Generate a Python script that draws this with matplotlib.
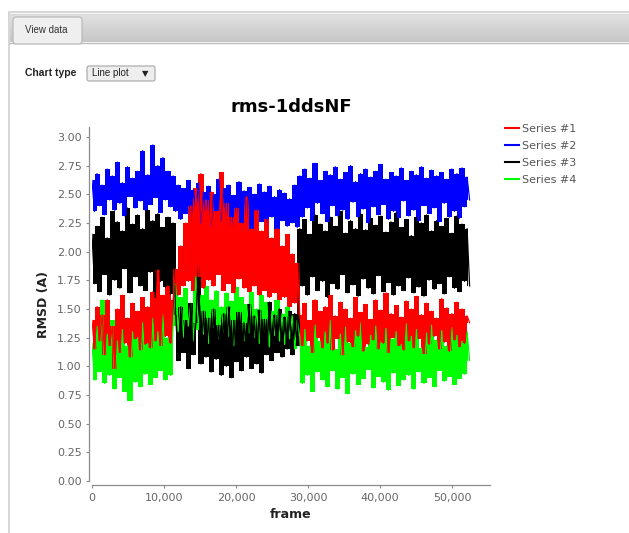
import numpy as np
import matplotlib
matplotlib.use("Agg")
import matplotlib.pyplot as plt
from matplotlib.colors import LinearSegmentedColormap
from matplotlib.patches import Rectangle, FancyBboxPatch
from matplotlib.lines import Line2D
from matplotlib.ticker import FuncFormatter, MultipleLocator

n_pts = 150
frames = np.arange(n_pts) * 352

series_1 = [  # red
    1.40, 1.15, 1.52, 1.22, 1.45, 1.10, 1.58, 1.18, 1.35, 0.98,
    1.50, 1.12, 1.62, 1.20, 1.42, 1.08, 1.55, 1.24, 1.48, 1.14,
    1.60, 1.19, 1.52, 1.16, 1.65, 1.22, 1.84, 1.18, 1.62, 1.26,
    1.70, 1.20, 1.58,
    1.85, 1.62, 2.05, 1.70, 2.25, 1.74, 2.40, 1.66, 2.55, 1.78,
    2.68, 1.68, 2.45, 1.75, 2.52, 1.70, 2.35, 1.80, 2.69, 1.66,
    2.42, 1.72, 2.30, 1.64, 2.38, 1.76, 2.25, 1.68, 2.48, 1.65,
    2.20, 1.70, 2.36, 1.62, 2.18, 1.66, 2.28, 1.60, 2.12, 1.64,
    2.20, 1.58, 2.05, 1.60, 2.15, 1.52, 1.98, 1.55, 1.90,
    1.45, 1.18, 1.55, 1.22, 1.40, 1.12, 1.58, 1.25, 1.48, 1.16,
    1.52, 1.20, 1.62, 1.14, 1.44, 1.24, 1.56, 1.10, 1.50, 1.21,
    1.42, 1.17, 1.60, 1.26, 1.47, 1.13, 1.54, 1.19, 1.41, 1.23,
    1.58, 1.15, 1.49, 1.20, 1.64, 1.12, 1.46, 1.25, 1.53, 1.18,
    1.43, 1.14, 1.57, 1.22, 1.50, 1.16, 1.61, 1.24, 1.45, 1.11,
    1.55, 1.19, 1.48, 1.26, 1.42, 1.15, 1.59, 1.21, 1.51, 1.13,
    1.46, 1.23, 1.56, 1.17, 1.50, 1.20, 1.44, 1.38,
]
series_2 = [  # blue
    2.62, 2.35, 2.68, 2.40, 2.58, 2.32, 2.72, 2.45, 2.66, 2.36,
    2.78, 2.42, 2.60, 2.31, 2.74, 2.48, 2.64, 2.38, 2.70, 2.44,
    2.88, 2.36, 2.67, 2.41, 2.93, 2.47, 2.75, 2.34, 2.82, 2.45,
    2.70, 2.39, 2.66,
    2.35, 2.58, 2.28, 2.55, 2.33, 2.62, 2.26, 2.54, 2.36, 2.60,
    2.25, 2.52, 2.31, 2.57, 2.22, 2.50, 2.34, 2.63, 2.27, 2.55,
    2.30, 2.58, 2.21, 2.49, 2.32, 2.61, 2.24, 2.53, 2.29, 2.56,
    2.20, 2.50, 2.33, 2.59, 2.26, 2.52, 2.23, 2.57, 2.30, 2.48,
    2.19, 2.54, 2.27, 2.51, 2.22, 2.46, 2.25, 2.58, 2.21,
    2.66, 2.30, 2.72, 2.38, 2.64, 2.27, 2.77, 2.42, 2.62, 2.33,
    2.70, 2.26, 2.67, 2.40, 2.74, 2.31, 2.63, 2.36, 2.69, 2.28,
    2.75, 2.43, 2.61, 2.30, 2.68, 2.37, 2.72, 2.25, 2.65, 2.39,
    2.70, 2.32, 2.76, 2.41, 2.63, 2.28, 2.69, 2.35, 2.66, 2.29,
    2.73, 2.44, 2.62, 2.31, 2.70, 2.36, 2.67, 2.27, 2.74, 2.40,
    2.64, 2.33, 2.71, 2.38, 2.66, 2.26, 2.69, 2.42, 2.63, 2.30,
    2.72, 2.35, 2.68, 2.29, 2.73, 2.39, 2.65, 2.45,
]
series_3 = [  # black
    2.15, 1.72, 2.22, 1.65, 2.30, 1.80, 2.12, 1.62, 2.35, 1.75,
    2.26, 1.68, 2.18, 1.85, 2.38, 1.64, 2.24, 1.78, 2.32, 1.70,
    2.20, 1.66, 2.36, 1.82, 2.27, 1.60, 2.33, 1.74, 2.21, 1.69,
    2.30, 1.63, 2.25,
    1.45, 1.05, 1.52, 1.12, 1.40, 0.98, 1.55, 1.10, 1.38, 1.90,
    1.02, 1.48, 1.08, 1.42, 0.95, 1.50, 1.06, 1.36, 0.92, 1.46,
    1.00, 1.52, 0.90, 1.40, 1.04, 1.47, 0.96, 1.38, 1.08, 1.54,
    0.98, 1.44, 1.02, 1.49, 0.94, 1.41, 1.10, 1.56, 1.05, 1.45,
    1.12, 1.50, 1.08, 1.43, 1.15, 1.48, 1.10, 1.46, 1.18,
    2.20, 1.70, 2.28, 1.62, 2.15, 1.78, 2.32, 1.66, 2.24, 1.74,
    2.18, 1.60, 2.30, 1.72, 2.22, 1.67, 2.35, 1.80, 2.16, 1.64,
    2.27, 1.71, 2.20, 1.61, 2.33, 1.76, 2.19, 1.68, 2.29, 1.63,
    2.23, 1.79, 2.31, 1.65, 2.17, 1.73, 2.26, 1.62, 2.34, 1.70,
    2.21, 1.66, 2.28, 1.77, 2.14, 1.64, 2.30, 1.69, 2.25, 1.61,
    2.32, 1.75, 2.18, 1.67, 2.27, 1.72, 2.22, 1.63, 2.29, 1.78,
    2.16, 1.68, 2.31, 1.65, 2.24, 1.74, 2.20, 1.70,
]
series_4 = [  # green
    1.20, 0.88, 1.35, 0.95, 1.58, 0.85, 1.28, 0.92, 1.40, 0.80,
    1.22, 0.90, 1.32, 0.78, 1.18, 0.70, 1.30, 0.86, 1.25, 0.82,
    1.38, 0.93, 1.20, 0.84, 1.42, 0.90, 1.30, 0.96, 1.45, 0.88,
    1.25, 0.92, 1.35,
    1.72, 1.30, 1.60, 1.25, 1.68, 1.35, 1.55, 1.22, 1.78, 1.32,
    1.62, 1.28, 1.70, 1.20, 1.58, 1.34, 1.66, 1.24, 1.52, 1.30,
    1.64, 1.26, 1.57, 1.18, 1.69, 1.33, 1.60, 1.22, 1.54, 1.29,
    1.65, 1.25, 1.50, 1.20, 1.62, 1.30, 1.56, 1.17, 1.48, 1.27,
    1.58, 1.22, 1.46, 1.19, 1.52, 1.24, 1.44, 1.15, 1.40,
    1.25, 0.85, 1.32, 0.92, 1.18, 0.78, 1.36, 0.95, 1.22, 0.88,
    1.30, 0.82, 1.40, 0.96, 1.15, 0.80, 1.28, 0.90, 1.34, 0.76,
    1.20, 0.93, 1.31, 0.84, 1.38, 0.89, 1.17, 0.97, 1.27, 0.81,
    1.35, 0.91, 1.21, 0.86, 1.33, 0.79, 1.24, 0.94, 1.30, 0.83,
    1.19, 0.88, 1.37, 0.92, 1.26, 0.80, 1.32, 0.95, 1.16, 0.85,
    1.29, 0.90, 1.36, 0.82, 1.23, 0.96, 1.31, 0.87, 1.18, 0.91,
    1.34, 0.84, 1.27, 0.89, 1.22, 0.93, 1.30, 1.05,
]

labels = ["Series #1", "Series #2", "Series #3", "Series #4"]
colors = ["#ff0000", "#0000ff", "#000000", "#00ff00"]
all_series = [series_1, series_2, series_3, series_4]

W, H = 629, 533
fig = plt.figure(figsize=(W / 100, H / 100), dpi=100)

# --- window chrome, drawn in pixel coordinates ---
bg = fig.add_axes([0, 0, 1, 1])
bg.set_xlim(0, W)
bg.set_ylim(H, 0)
bg.axis("off")
bg.add_patch(Rectangle((9, 12), 700, 600, facecolor="white", edgecolor="#cfcfcf", lw=1.2))
grad = np.linspace(0, 1, 50).reshape(-1, 1)
bg.imshow(grad, extent=(10, W, 42, 14),
          cmap=LinearSegmentedColormap.from_list("tabbar", ["#e2e2e2", "#c6c6c6"]),
          aspect="auto", zorder=1)
bg.plot([10, W], [42.5, 42.5], color="#bdbdbd", lw=1, zorder=2)
bg.plot([10, W], [13.5, 13.5], color="#d8d8d8", lw=1, zorder=2)
bg.add_patch(FancyBboxPatch((13, 17), 69, 27, boxstyle="round,pad=0,rounding_size=3",
                            facecolor="#efefef", edgecolor="#b5b5b5", lw=0.8, zorder=3))
bg.text(25, 30, "View data", fontsize=7, family="Liberation Sans", color="#333333",
        va="center", zorder=4)
bg.text(25, 73.5, "Chart type", fontsize=7.5, family="Liberation Sans", fontweight="bold",
        color="#222222", va="center")
bg.add_patch(FancyBboxPatch((87, 66), 68, 15, boxstyle="round,pad=0,rounding_size=2",
                            facecolor="#eeeeee", edgecolor="#a5a5a5", lw=0.8))
bg.text(92, 73.5, "Line plot", fontsize=7, family="Liberation Sans", color="#222222",
        va="center")
bg.text(142, 73.5, "\u25bc", fontsize=6, color="#222222", va="center")

# --- chart ---
ax = fig.add_axes([92 / W, (H - 481) / H, (490 - 92) / W, (481 - 127) / H])
x_mid = (frames[:-1] + frames[1:]) / 2
for i in [3, 2, 1, 0]:
    v = np.asarray(all_series[i])
    # span covered by each up/down stroke, so the trace reads as a dense band
    ax.fill_between(x_mid, np.minimum(v[:-1], v[1:]), np.maximum(v[:-1], v[1:]),
                    step="mid", color=colors[i], lw=0)
    ax.plot(frames, v, color=colors[i], lw=0.9)

ax.set_xlim(0, 55280)
ax.set_ylim(0, 3.086)
ax.xaxis.set_major_locator(MultipleLocator(10000))
ax.yaxis.set_major_locator(MultipleLocator(0.25))
ax.xaxis.set_major_formatter(FuncFormatter(lambda v, p: f"{int(v):,}"))
ax.yaxis.set_major_formatter(FuncFormatter(lambda v, p: f"{v:.2f}"))
for s in ["top", "right"]:
    ax.spines[s].set_visible(False)
ax.spines["left"].set_position(("outward", 2))
ax.spines["bottom"].set_position(("outward", 3))
for s in ["left", "bottom"]:
    ax.spines[s].set_color("#8c8c8c")
    ax.spines[s].set_linewidth(0.9)
ax.tick_params(colors="#8c8c8c", labelcolor="#666666", labelsize=8, length=2.5, width=0.8, pad=3)

ax.set_title("rms-1ddsNF", fontsize=13, fontweight="bold", pad=11)
ax.set_xlabel("frame", fontsize=9, fontweight="bold", color="#222222", labelpad=4)
ax.set_ylabel("RMSD (A)", fontsize=9, fontweight="bold", color="#222222", labelpad=5)

handles = [Line2D([], [], color=c, lw=1.5) for c in colors]
fig.legend(handles, labels, loc="upper left", bbox_to_anchor=(495 / W, 1 - 114 / H),
           frameon=False, fontsize=8, labelcolor="#555555", handlelength=1.3,
           handletextpad=0.25, labelspacing=0.62)

fig.savefig("out.png", dpi=100)
